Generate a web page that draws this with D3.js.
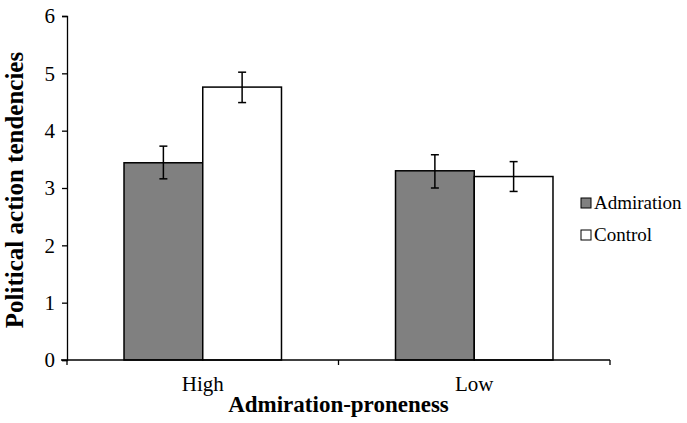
<!DOCTYPE html>
<html lang="en">
<head>
<meta charset="UTF-8">
<title>Political action tendencies</title>
<script src="https://cdnjs.cloudflare.com/ajax/libs/d3/7.8.5/d3.min.js"></script>
<style>
  body { margin: 0; background: #fff; }
  text { font-family: "Liberation Serif", "Times New Roman", serif; fill: #000; }
</style>
</head>
<body>
<svg id="chart" width="687" height="423"></svg>
<script>
    // data
    var groups = ["High", "Low"];
    var conditions = ["Admiration", "Control"];
    var means = [[3.44, 4.76], [3.30, 3.20]];
    var errLow = [[3.16, 4.49], [3.00, 2.94]];
    var errHigh = [[3.73, 5.02], [3.58, 3.46]];
    var yTicks = [0, 1, 2, 3, 4, 5, 6];
    var colors = ["#808080", "#ffffff"];

    var svg = d3.select("#chart");
    var mLeft = 67, mRight = 610, mTop = 16, mBottom = 360;

    var x0 = d3.scaleBand().domain(groups).range([mLeft, mRight]).paddingInner(0.42).paddingOuter(0.21);
    var x1 = d3.scaleBand().domain(conditions).range([0, x0.bandwidth()]);
    var y = d3.scaleLinear().domain([0, 6]).range([mBottom, mTop]);

    // bars
    var g = svg.append("g");
    groups.forEach(function(grp, i) {
        conditions.forEach(function(c, j) {
            var bx = x0(grp) + x1(c);
            g.append("rect")
                .attr("x", bx)
                .attr("y", y(means[i][j]))
                .attr("width", x1.bandwidth())
                .attr("height", y(0) - y(means[i][j]))
                .attr("fill", colors[j])
                .attr("stroke", "#000")
                .attr("stroke-width", 1.5);
            var cx = bx + x1.bandwidth() / 2;
            g.append("line")
                .attr("x1", cx).attr("x2", cx)
                .attr("y1", y(errLow[i][j])).attr("y2", y(errHigh[i][j]))
                .attr("stroke", "#000").attr("stroke-width", 1.5);
            [errLow[i][j], errHigh[i][j]].forEach(function(v) {
                g.append("line")
                    .attr("x1", cx - 4).attr("x2", cx + 4)
                    .attr("y1", y(v)).attr("y2", y(v))
                    .attr("stroke", "#000").attr("stroke-width", 1.5);
            });
        });
    });

    // y axis
    var yAxis = svg.append("g")
        .attr("transform", "translate(" + mLeft + ",0)")
        .call(d3.axisLeft(y).tickValues(yTicks).tickSize(5).tickPadding(7).tickFormat(d3.format("d")));
    yAxis.selectAll("text").style("font-size", "21px");
    yAxis.selectAll("line, path").attr("stroke", "#000").attr("stroke-width", 1.3);

    // x axis with ticks on group boundaries
    var xAxis = svg.append("g").attr("transform", "translate(0," + mBottom + ")");
    xAxis.append("line").attr("x1", mLeft - 6).attr("x2", mRight).attr("stroke", "#000").attr("stroke-width", 1.3);
    var bounds = [mLeft, (x0("High") + x0.bandwidth() + x0("Low")) / 2, mRight];
    bounds.forEach(function(b) {
        xAxis.append("line").attr("x1", b).attr("x2", b).attr("y1", 0).attr("y2", 5)
            .attr("stroke", "#000").attr("stroke-width", 1.3);
    });
    groups.forEach(function(grp) {
        xAxis.append("text")
            .attr("x", x0(grp) + x0.bandwidth() / 2)
            .attr("y", 31)
            .attr("text-anchor", "middle")
            .style("font-size", "21px")
            .text(grp);
    });

    // axis titles
    svg.append("text")
        .attr("x", (mLeft + mRight) / 2)
        .attr("y", 412)
        .attr("text-anchor", "middle")
        .style("font-size", "23px").style("font-weight", "bold")
        .text("Admiration-proneness");
    svg.append("text")
        .attr("transform", "translate(23,190) rotate(-90)")
        .attr("text-anchor", "middle")
        .style("font-size", "25px").style("font-weight", "bold")
        .text("Political action tendencies");

    // legend
    var legend = svg.append("g").attr("transform", "translate(581,198)");
    conditions.forEach(function(c, j) {
        var row = legend.append("g").attr("transform", "translate(0," + j * 32 + ")");
        row.append("rect").attr("width", 10).attr("height", 10)
            .attr("fill", colors[j]).attr("stroke", "#000").attr("stroke-width", 1);
        row.append("text").attr("x", 13).attr("y", 11).style("font-size", "19px").text(c);
    });
</script>
</body>
</html>
